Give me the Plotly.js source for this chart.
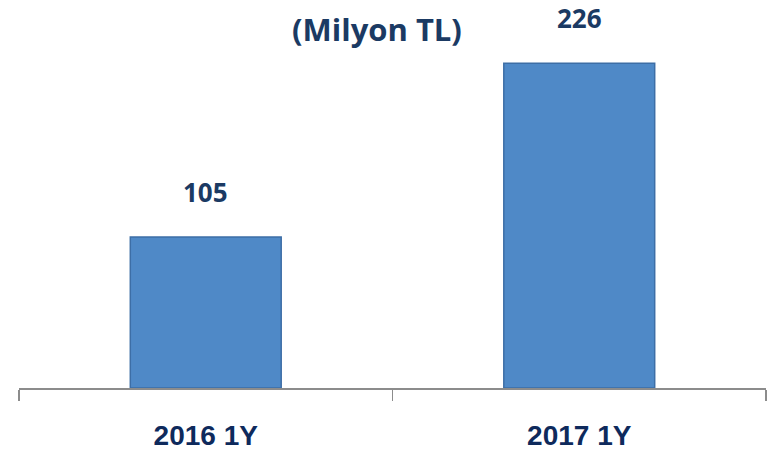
<!DOCTYPE html>
<html>
<head>
<meta charset="utf-8">
<script src="https://cdn.plot.ly/plotly-3.0.1.min.js"></script>
<style>html,body{margin:0;padding:0;background:#fff;}#chart{width:774px;height:452px;}</style>
</head>
<body>
<div id="chart"></div>
<script>
const categories = ["2016 1Y", "2017 1Y"];
const values = [105, 226];
const titleText = "(Milyon TL)";

const navy = "#1b3a63";
const trace = {
  type: "bar",
  x: categories,
  y: values,
  marker: {color: "#4f89c7", line: {color: "#3d6ea6", width: 1.5}},
  hoverinfo: "none"
};

const annotations = categories.map((c, i) => ({
  x: c, y: values[i], xref: "x", yref: "y",
  text: String(values[i]), showarrow: false,
  yanchor: "bottom", yshift: 25,
  font: {family: "Open Sans, sans-serif", size: 26, color: navy, weight: 700}
}));
annotations.push({
  x: 0.479, y: 0.925, xref: "paper", yref: "paper",
  text: "<b>" + titleText + "</b>", showarrow: false,
  xanchor: "center", yanchor: "middle",
  font: {family: "Open Sans, sans-serif", size: 31, color: navy}
});

const layout = {
  width: 774, height: 452,
  margin: {l: 19, r: 8, t: 0, b: 64},
  paper_bgcolor: "#fff", plot_bgcolor: "#fff",
  showlegend: false,
  bargap: 0.596,
  xaxis: {
    range: [-0.5, 1.5],
    showline: true, linecolor: "#8c8c8c", linewidth: 1.5,
    ticks: "outside", tickson: "boundaries", ticklen: 11, tickcolor: "#8c8c8c", tickwidth: 1.5,
    ticklabelstandoff: 22,
    tickfont: {family: "Liberation Sans Narrow, Arial Narrow, sans-serif", size: 28, color: "#0e2a5c", weight: 700},
    showgrid: false, zeroline: false, fixedrange: true
  },
  yaxis: {
    range: [0, 270], visible: false, showgrid: false, zeroline: false, fixedrange: true
  },
  annotations: annotations
};

Plotly.newPlot("chart", [trace], layout, {displayModeBar: false, staticPlot: true});
</script>
</body>
</html>
